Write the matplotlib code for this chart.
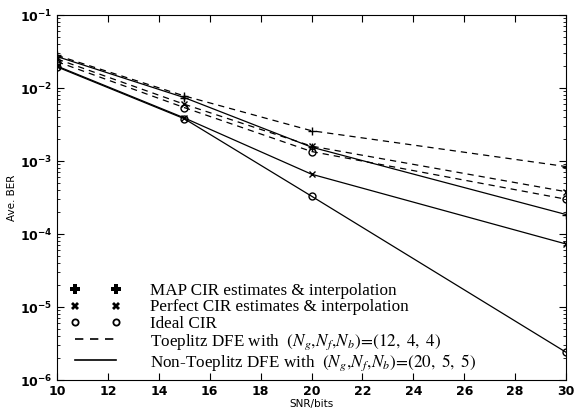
import numpy as np
import matplotlib
matplotlib.use('Agg')
import matplotlib.pyplot as plt
from matplotlib.lines import Line2D

snr = [10, 15, 20, 30]

# Toeplitz DFE (dashed)
map_t = [2.8e-2, 7.8e-3, 2.6e-3, 8.4e-4]
perf_t = [2.5e-2, 6.0e-3, 1.6e-3, 3.8e-4]
ideal_t = [2.3e-2, 5.4e-3, 1.35e-3, 3.0e-4]

# Non-Toeplitz DFE (solid)
map_n = [2.7e-2, 7.4e-3, 1.55e-3, 1.85e-4]
perf_n = [2.0e-2, 3.9e-3, 6.6e-4, 7.3e-5]
ideal_n = [1.95e-2, 3.8e-3, 3.3e-4, 2.4e-6]

labels = ['MAP CIR estimates & interpolation',
          'Perfect CIR estimates & interpolation',
          'Ideal CIR',
          r'Toeplitz DFE with  $(N_g,\!N_f,\!N_b)\!=\!\mathit{(12,\ 4,\ 4)}$',
          r'Non-Toeplitz DFE with  $(N_g,\!N_f,\!N_b)\!=\!\mathit{(20,\ 5,\ 5)}$']

plt.rcParams['mathtext.fontset'] = 'stix'

fig = plt.figure(figsize=(5.77, 4.11), dpi=100)
ax = fig.add_axes([0.0988, 0.0754, 0.8822, 0.888])

dash = (0, (5, 4))
ax.semilogy(snr, map_t, color='k', lw=0.9, ls=dash, marker='+', ms=6, mew=1)
ax.semilogy(snr, perf_t, color='k', lw=0.9, ls=dash, marker='x', ms=5, mew=1)
ax.semilogy(snr, ideal_t, color='k', lw=0.9, ls=dash, marker='o', ms=5, mfc='none', mew=1)
ax.semilogy(snr, map_n, color='k', lw=0.9, marker='+', ms=6, mew=1)
ax.semilogy(snr, perf_n, color='k', lw=0.9, marker='x', ms=5, mew=1)
ax.semilogy(snr, ideal_n, color='k', lw=0.9, marker='o', ms=5, mfc='none', mew=1)

ax.set_xlim(10, 30)
ax.set_ylim(1e-6, 1e-1)
ax.set_xticks(np.arange(10, 31, 2))
ax.tick_params(which='both', direction='in', top=True, right=True, labelsize=9)
ax.tick_params(which='major', length=5)
ax.tick_params(which='minor', length=2.5)
for t in ax.get_xticklabels() + ax.get_yticklabels():
    t.set_fontweight('bold')
ax.set_xlabel('SNR/bits', fontsize=7.5, labelpad=1)
ax.set_ylabel('Ave. BER', fontsize=7.5, labelpad=2)

handles = [Line2D([], [], color='k', ls='none', marker='P', ms=7, mew=0),
           Line2D([], [], color='k', ls='none', marker='X', ms=6, mew=0),
           Line2D([], [], color='k', ls='none', marker='o', ms=4.5, mfc='none', mew=1.3),
           Line2D([], [], color='k', ls=dash, lw=1.2),
           Line2D([], [], color='k', ls='-', lw=1.2)]
ax.legend(handles, labels, loc='lower left', bbox_to_anchor=(0.0255, 0.02),
          frameon=False, numpoints=2, handlelength=3.0, handletextpad=1.7,
          labelspacing=0.02, borderpad=0, borderaxespad=0,
          prop={'family': 'Liberation Serif', 'size': 12.3})

fig.savefig('out.png', dpi=100)
